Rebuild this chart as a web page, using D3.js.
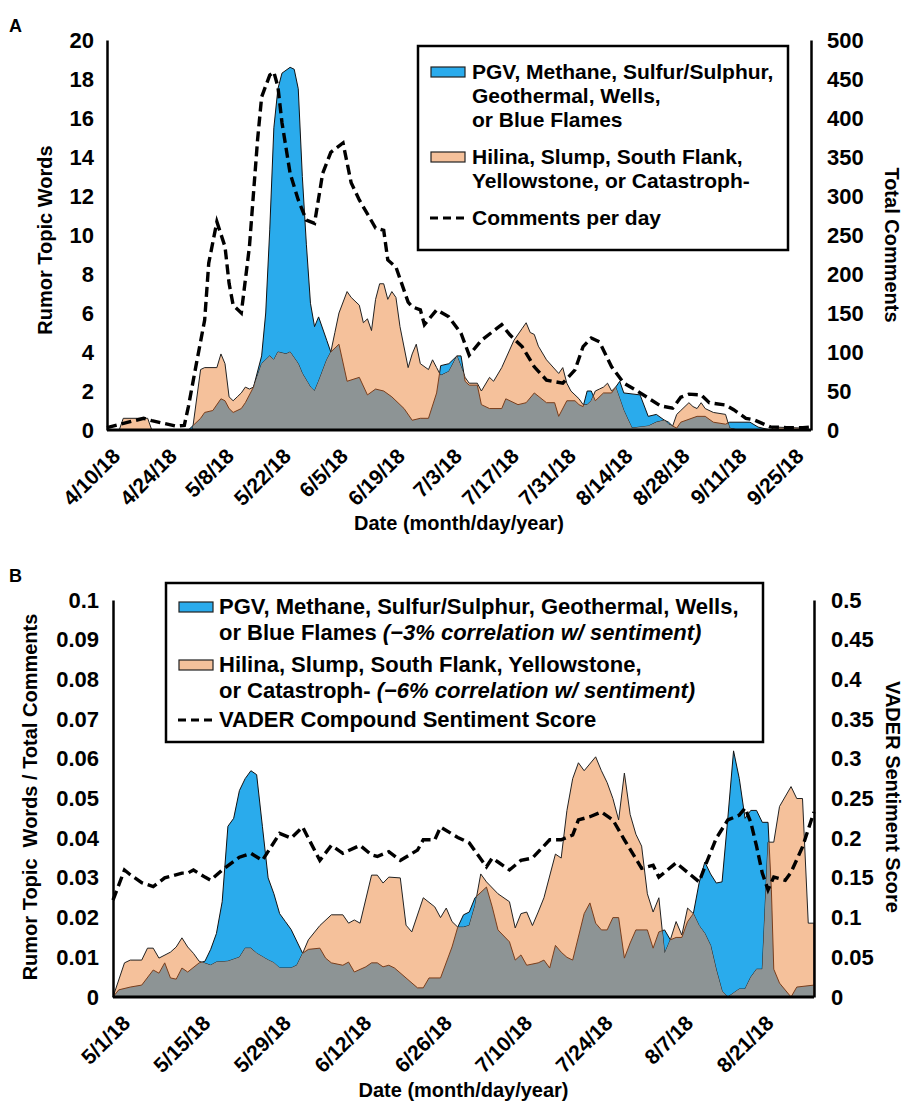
<!DOCTYPE html>
<meta charset="utf-8">
<html>
<head>
<script src="https://d3js.org/d3.v7.min.js"></script>
<style>
body { margin: 0; background: #fff; }
text { font-family: "Liberation Sans", Arial, sans-serif; font-weight: bold; fill: #000; }
.tick line { display: none; }
</style>
</head>
<body>
<div id="container"></div>
<script>
// ---------- panel A (days counted from 4/10/18) ----------
var startA = "4/10/18", endA = "9/30/18";
var dateTicksA = ["4/10/18","4/24/18","5/8/18","5/22/18","6/5/18","6/19/18","7/3/18","7/17/18","7/31/18","8/14/18","8/28/18","9/11/18","9/25/18"];
var leftTicksA = [0,2,4,6,8,10,12,14,16,18,20];
var rightTicksA = [0,50,100,150,200,250,300,350,400,450,500];

var pgvA = [[0,0],[20,0],[23,0.6],[24,0.9],[26,1.0],[28,1.6],[29,1.5],[30,1.1],[31,0.9],[33,1.1],[34,1.4],[36,2.2],[38,3.8],[39,6.0],[40,10.3],[41,15.5],[42,17.5],[43,18.3],[45,18.6],[46,18.5],[47,17.5],[48,13.0],[49,9.5],[50,6.5],[51,5.3],[52,5.8],[54,4.6],[55,4.0],[57,4.4],[59,2.5],[62,2.7],[64,1.8],[66,2.1],[68,2.0],[70,1.7],[73,1.1],[75,0.5],[77,0.6],[79,0.6],[81,1.9],[82,3.3],[84,3.4],[86,3.8],[87,3.8],[88,2.5],[89,2.3],[91,2.3],[92,1.3],[94,1.1],[97,1.1],[98,1.6],[101,1.3],[103,1.4],[105,1.9],[108,1.4],[110,1.4],[111,0.7],[113,1.5],[115,1.5],[116,1.3],[117,1.2],[118,2.0],[119,2.0],[120,1.5],[122,1.9],[124,1.9],[126,2.5],[127,1.9],[131,1.8],[133,0.7],[135,0.8],[137,0.5],[138,0.4],[139,0.2],[140,0.1],[141,0.4],[145,0.7],[147,0.7],[149,0.4],[152,0.3],[153,0.4],[158,0.4],[160,0.15],[163,0],[173,0]];

var hilinaA = [[0,0],[3,0],[4,0.6],[10,0.6],[11,0],[21,0],[23,3.1],[24,3.2],[27,3.2],[28,3.9],[29,3.4],[30,1.7],[31,1.5],[32,1.7],[33,1.9],[34,2.2],[35,2.1],[36,2.2],[38,3.4],[40,3.8],[41,3.6],[42,4.0],[44,3.9],[45,4.0],[47,3.4],[48,2.9],[50,2.2],[51,2.0],[52,2.5],[54,3.6],[55,4.0],[56,5.0],[57,6.0],[59,7.1],[60,6.8],[62,6.4],[63,5.5],[64,5.7],[65,5.1],[66,6.7],[67,7.5],[68,7.5],[69,6.7],[70,7.1],[71,6.8],[72,5.3],[74,3.2],[75,3.9],[76,4.4],[77,3.4],[79,3.1],[80,3.6],[81,3.2],[82,2.8],[84,3.0],[86,3.8],[88,2.7],[89,2.4],[91,2.4],[92,2.0],[94,2.7],[95,2.5],[97,3.2],[100,4.6],[102,5.2],[103,5.5],[104,5.0],[105,4.9],[106,4.3],[108,3.6],[111,2.9],[112,3.2],[113,2.4],[114,2.0],[115,1.8],[116,1.6],[117,1.3],[118,1.3],[119,1.5],[120,2.0],[121,2.1],[122,2.2],[123,2.4],[124,2.0],[125,2.2],[127,1.0],[129,0.1],[133,0.2],[135,0.4],[137,0.5],[138,0.3],[139,0.2],[140,0.8],[141,1.0],[143,1.4],[144,1.2],[145,1.1],[146,1.4],[147,1.1],[149,0.9],[152,0.8],[153,0.1],[155,0],[163,0],[164,0.15],[171,0.1],[173,0]];

var commentsA = [[0,3],[9,15],[11,12],[17,5],[19,6],[20,30],[22,86],[24,141],[25,214],[27,267],[29,235],[30,188],[31,160],[33,150],[35,235],[37,372],[38,427],[40,455],[41,459],[42,440],[43,394],[45,329],[47,295],[49,269],[51,265],[53,329],[55,356],[58,368],[60,317],[62,295],[66,259],[68,256],[69,218],[71,209],[74,164],[75,158],[77,154],[78,135],[81,154],[84,145],[87,124],[89,96],[92,115],[97,135],[99,122],[102,107],[105,81],[108,64],[112,60],[115,77],[117,107],[119,118],[121,113],[124,81],[127,60],[130,51],[133,41],[136,31],[139,28],[141,42],[143,46],[146,45],[148,35],[152,32],[154,26],[157,15],[159,13],[163,4],[167,3],[171,3],[173,4]];

// ---------- panel B (days counted from 5/1/18) ----------
var startB = "5/1/18", endB = "8/31/18";
var dateTicksB = ["5/1/18","5/15/18","5/29/18","6/12/18","6/26/18","7/10/18","7/24/18","8/7/18","8/21/18"];
var leftTicksB = [0,0.01,0.02,0.03,0.04,0.05,0.06,0.07,0.08,0.09,0.1];
var rightTicksB = [0,0.05,0.1,0.15,0.2,0.25,0.3,0.35,0.4,0.45,0.5];

var pgvB = [[0,0],[1,0.0018],[3,0.0025],[5,0.003],[7,0.0068],[8,0.006],[9,0.0086],[10,0.0048],[11,0.0045],[12,0.0073],[13,0.0063],[15,0.0086],[16,0.009],[17,0.012],[18,0.016],[19,0.024],[20,0.043],[21,0.045],[22,0.052],[23,0.055],[24,0.057],[25,0.056],[26,0.043],[27,0.030],[28,0.026],[29,0.021],[30,0.019],[31,0.017],[33,0.011],[34,0.012],[36,0.0123],[37,0.0098],[38,0.0086],[40,0.008],[41,0.0088],[42,0.0063],[44,0.0076],[45,0.0086],[46,0.0086],[47,0.0076],[48,0.008],[49,0.0073],[51,0.0048],[53,0.0023],[54,0.0023],[55,0.0048],[57,0.0048],[59,0.0126],[60,0.0176],[61,0.0207],[62,0.0214],[63,0.025],[65,0.0277],[66,0.0227],[67,0.0169],[69,0.0139],[70,0.0093],[71,0.0106],[72,0.008],[74,0.0086],[75,0.0093],[76,0.0073],[77,0.013],[78,0.0113],[79,0.010],[80,0.0093],[82,0.021],[83,0.0237],[84,0.0186],[85,0.0169],[86,0.0169],[87,0.020],[88,0.020],[89,0.0098],[90,0.0136],[91,0.0169],[93,0.0169],[94,0.0123],[95,0.0164],[96,0.0169],[97,0.0144],[98,0.015],[99,0.015],[100,0.019],[101,0.021],[102,0.0287],[103,0.034],[104,0.031],[105,0.0287],[106,0.029],[107,0.045],[108,0.062],[109,0.055],[110,0.045],[111,0.047],[112,0.047],[113,0.044],[114,0.044],[114.6,0.027],[115,0.007],[116,0.0035],[118,0],[119,0.0025],[122,0.003]];

var hilinaB = [[0,0],[2,0.0086],[3,0.0093],[5,0.0093],[6,0.0123],[7,0.0123],[8,0.0098],[10,0.0113],[11,0.0126],[12,0.0149],[13,0.0126],[14,0.011],[15,0.009],[17,0.008],[18,0.0088],[20,0.009],[22,0.010],[23,0.0123],[24,0.0123],[25,0.011],[27,0.0093],[28,0.0086],[29,0.0073],[31,0.0073],[32,0.008],[33,0.011],[34,0.0144],[36,0.018],[38,0.0207],[40,0.0207],[41,0.0186],[42,0.0194],[43,0.0186],[45,0.0307],[46,0.0307],[47,0.0287],[48,0.0302],[50,0.030],[51,0.0181],[52,0.0164],[54,0.025],[56,0.0227],[57,0.020],[58,0.0224],[59,0.019],[60,0.0176],[61,0.0176],[62,0.018],[63,0.023],[64,0.031],[65,0.029],[67,0.026],[69,0.024],[70,0.0174],[71,0.021],[72,0.0214],[73,0.018],[74,0.0214],[75,0.025],[77,0.036],[78,0.035],[79,0.047],[80,0.055],[81,0.059],[82,0.057],[84,0.0605],[85,0.057],[86,0.054],[87,0.050],[88,0.0446],[89,0.0564],[90,0.046],[91,0.041],[92,0.038],[93,0.026],[94,0.0214],[95,0.025],[96,0.011],[97,0.0144],[98,0.019],[99,0.0156],[100,0.0224],[101,0.021],[102,0.018],[103,0.016],[104,0.013],[105,0.0068],[106,0.0015],[107,0],[109,0.002],[110,0.002],[111,0.005],[112,0.007],[113,0.007],[114,0.039],[115,0.039],[116,0.048],[118,0.053],[119,0.050],[120,0.050],[121,0.0186],[122,0.0186]];

var sentimentB = [[0,0.122],[2,0.160],[3,0.154],[5,0.144],[7,0.139],[9,0.150],[12,0.156],[13,0.156],[14,0.160],[16,0.151],[17,0.147],[19,0.160],[22,0.176],[24,0.181],[26,0.172],[29,0.206],[31,0.200],[33,0.214],[36,0.172],[38,0.191],[40,0.181],[43,0.191],[45,0.179],[46,0.177],[48,0.183],[50,0.172],[53,0.185],[54,0.198],[56,0.198],[57,0.214],[60,0.201],[62,0.194],[65,0.164],[66,0.175],[67,0.170],[69,0.160],[71,0.172],[73,0.175],[76,0.198],[78,0.198],[80,0.204],[81,0.223],[83,0.227],[85,0.233],[87,0.223],[89,0.198],[92,0.162],[94,0.166],[95,0.151],[98,0.169],[102,0.145],[103,0.164],[105,0.200],[107,0.223],[109,0.229],[110,0.238],[111,0.22],[112,0.19],[113,0.156],[114,0.135],[115,0.151],[117,0.147],[118,0.157],[120,0.189],[122,0.233]];

var blue = "#2aabec", peach = "#f5c19b", grey = "#8d9495";
var parseDate = d3.timeParse("%m/%d/%y");

var svg = d3.select("#container").append("svg")
            .attr("width", 907)
            .attr("height", 1104);

function drawPanel(p) {
  var start = parseDate(p.start);
  var x = d3.scaleTime().domain([start, parseDate(p.end)]).range([p.left, p.right]);
  var yL = d3.scaleLinear().domain([0, d3.max(p.leftTicks)]).range([p.bottom, p.top]);
  var yR = d3.scaleLinear().domain([0, d3.max(p.rightTicks)]).range([p.bottom, p.top]);
  var xd = (d) => x(d3.timeHour.offset(start, d[0] * 24));

  var area = d3.area().x(xd).y0(yL(0)).y1((d) => yL(d[1]));
  var g = svg.append("g");

  g.append("path").attr("d", area(p.pgv)).attr("fill", blue)
   .attr("stroke", "#111").attr("stroke-width", 1);
  g.append("path").attr("d", area(p.hilina)).attr("fill", peach)
   .attr("stroke", "#222").attr("stroke-width", 1);

  // overlap of both areas drawn grey
  g.append("clipPath").attr("id", p.id + "clip")
   .append("path").attr("d", area(p.hilina));
  g.append("path").attr("d", area(p.pgv)).attr("fill", grey)
   .attr("stroke", "#7a3e1c").attr("stroke-width", 1)
   .attr("clip-path", "url(#" + p.id + "clip)");

  var line = d3.line().x(xd).y((d) => yR(d[1]));
  g.append("path").attr("d", line(p.dashed)).attr("fill", "none")
   .attr("stroke", "#000").attr("stroke-width", 3.4).attr("stroke-dasharray", "10,5");

  // axes
  var axL = svg.append("g").attr("transform", "translate(" + p.left + ",0)")
     .call(d3.axisLeft(yL).tickValues(p.leftTicks).tickSize(0).tickPadding(p.padL).tickFormat(p.fmtL));
  var axR = svg.append("g").attr("transform", "translate(" + p.right + ",0)")
     .call(d3.axisRight(yR).tickValues(p.rightTicks).tickSize(0).tickPadding(p.padR).tickFormat(p.fmtR));
  [axL, axR].forEach(function(a) {
    a.select(".domain").attr("stroke", "#000").attr("stroke-width", 2.5);
    a.selectAll("text").style("font-size", "22px").attr("fill", "#000");
  });
  svg.append("line").attr("x1", p.left).attr("x2", p.right)
     .attr("y1", p.bottom).attr("y2", p.bottom)
     .attr("stroke", "#000").attr("stroke-width", 3);

  svg.append("g").selectAll("text").data(p.dateTicks).enter().append("text")
     .attr("transform", (d) => "translate(" + (x(parseDate(d)) + p.lblDx) + "," + (p.bottom + 17) + ") rotate(-45)")
     .attr("text-anchor", "end").attr("dy", "0.7em")
     .style("font-size", "21px")
     .text((d) => d);

  svg.append("text").attr("x", (p.left + p.right) / 2).attr("y", p.xTitleY)
     .attr("text-anchor", "middle").style("font-size", "20px").text("Date (month/day/year)");
  svg.append("text").attr("transform", "translate(" + p.yTitleLX + "," + p.yTitleLY + ") rotate(-90)")
     .attr("text-anchor", "middle").style("font-size", "20px").style("white-space", "pre").text(p.titleL);
  svg.append("text").attr("transform", "translate(" + p.yTitleRX + "," + p.yTitleRY + ") rotate(90)")
     .attr("text-anchor", "middle").style("font-size", "20px").text(p.titleR);
  svg.append("text").attr("x", 9).attr("y", p.letterY).style("font-size", "18px").text(p.letter);

  // legend
  var L = p.legend;
  svg.append("rect").attr("x", L.x).attr("y", L.y).attr("width", L.w).attr("height", L.h)
     .attr("fill", "#fff").attr("stroke", "#000").attr("stroke-width", 2.5);
  L.items.forEach(function(it) {
    if (it.kind === "dash") {
      svg.append("line").attr("x1", L.x + 12).attr("x2", L.x + 46)
         .attr("y1", it.y).attr("y2", it.y).attr("stroke", "#000")
         .attr("stroke-width", 3).attr("stroke-dasharray", "8,5");
    } else {
      svg.append("rect").attr("x", L.x + 13).attr("y", it.y - 5).attr("width", 34).attr("height", 10)
         .attr("fill", it.kind === "blue" ? blue : peach).attr("stroke", "#222").attr("stroke-width", 1.2);
    }
    it.lines.forEach(function(ln, i) {
      var t = svg.append("text").attr("x", L.x + L.tx).attr("y", it.y + 7 + i * L.lh)
                 .style("font-size", L.fs + "px");
      ln.forEach(function(part) {
        t.append("tspan").style("font-style", part[1] ? "italic" : "normal").text(part[0]);
      });
    });
  });
}

var fmt = (d) => d === 0 ? "0" : String(+d.toFixed(2));

drawPanel({
  id: "A", letter: "A", letterY: 32,
  start: startA, end: endA, dateTicks: dateTicksA, lblDx: 4,
  left: 107, right: 811, top: 40, bottom: 430,
  leftTicks: leftTicksA, rightTicks: rightTicksA, padL: 13, padR: 16,
  fmtL: fmt, fmtR: fmt,
  pgv: pgvA, hilina: hilinaA, dashed: commentsA,
  xTitleY: 530, yTitleLX: 52, yTitleLY: 240, yTitleRX: 885, yTitleRY: 245,
  titleL: "Rumor Topic Words", titleR: "Total Comments",
  legend: { x: 418, y: 46, w: 370, h: 204, tx: 54, lh: 24, fs: 21, items: [
    { kind: "blue", y: 72, lines: [[["PGV, Methane, Sulfur/Sulphur,"]], [["Geothermal, Wells,"]], [["or Blue Flames"]]] },
    { kind: "peach", y: 157, lines: [[["Hilina, Slump, South Flank,"]], [["Yellowstone, or Catastroph-"]]] },
    { kind: "dash", y: 218, lines: [[["Comments per day"]]] }
  ]}
});

drawPanel({
  id: "B", letter: "B", letterY: 582,
  start: startB, end: endB, dateTicks: dateTicksB, lblDx: 8,
  left: 113, right: 814, top: 600, bottom: 997,
  leftTicks: leftTicksB, rightTicks: rightTicksB, padL: 14, padR: 17,
  fmtL: fmt, fmtR: fmt,
  pgv: pgvB, hilina: hilinaB, dashed: sentimentB,
  xTitleY: 1097, yTitleLX: 37, yTitleLY: 797, yTitleRX: 886, yTitleRY: 797,
  titleL: "Rumor Topic  Words / Total Comments", titleR: "VADER Sentiment Score",
  legend: { x: 166, y: 583, w: 597, h: 159, tx: 53, lh: 26, fs: 22, items: [
    { kind: "blue", y: 607, lines: [[["PGV, Methane, Sulfur/Sulphur, Geothermal, Wells,"]], [["or Blue Flames "], ["(\u22123% correlation w/ sentiment)", 1]]] },
    { kind: "peach", y: 665, lines: [[["Hilina, Slump, South Flank, Yellowstone,"]], [["or Catastroph- "], ["(\u22126% correlation w/ sentiment)", 1]]] },
    { kind: "dash", y: 720, lines: [[["VADER Compound Sentiment Score"]]] }
  ]}
});
</script>
</body>
</html>
